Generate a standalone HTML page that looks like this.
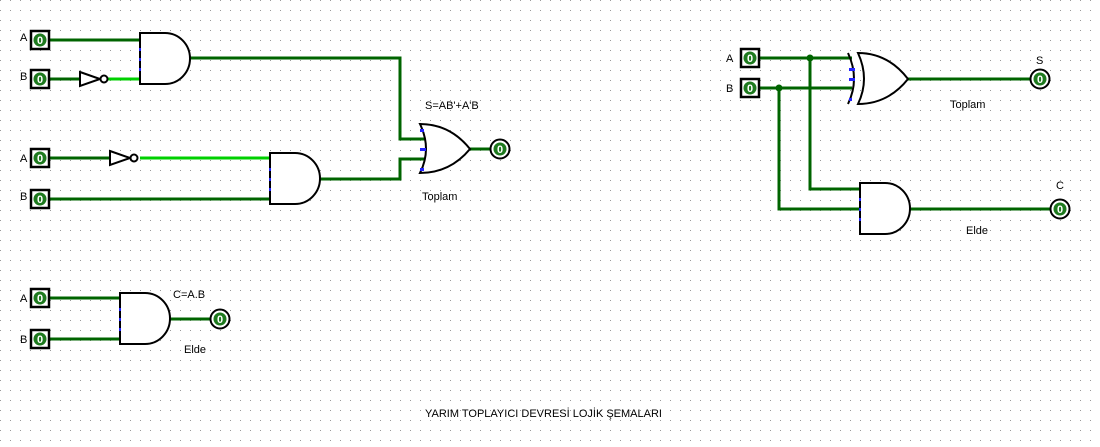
<!DOCTYPE html>
<html><head><meta charset="utf-8"><style>
body{margin:0;background:#fff;width:1100px;height:447px;overflow:hidden}
svg{display:block}
text{font-family:"Liberation Sans",sans-serif;font-size:11px;fill:#000}
</style></head><body>
<svg width="1100" height="447" xmlns="http://www.w3.org/2000/svg">
<defs>
<pattern id="g" width="10" height="10" patternUnits="userSpaceOnUse"><rect x="0" y="0" width="1" height="1" fill="#999"/></pattern>
<g id="in"><rect x="-9" y="-9" width="18" height="18" fill="#fff" stroke="#000" stroke-width="2.5"/><circle r="6.5" fill="#1e7a1e"/><text x="0" y="4" text-anchor="middle" style="font-size:11px;font-weight:bold;fill:#fff">0</text></g>
<g id="out"><circle r="9.5" fill="#fff" stroke="#000" stroke-width="2"/><circle r="6.5" fill="#1e7a1e"/><text x="0" y="4" text-anchor="middle" style="font-size:11px;font-weight:bold;fill:#fff">0</text></g>
</defs>
<rect width="1100" height="447" fill="url(#g)"/>
<g fill="none" stroke-width="3" stroke="#006400">
<!-- c1 -->
<path d="M50 40H140M50 79H80M190 58H400V139H425M425 159H400V179H320M470 149H490"/>
<path d="M108 79H140" stroke="#00d000"/>
<!-- c2 -->
<path d="M50 158H110M50 199H270"/>
<path d="M140 158H270" stroke="#00d000"/>
<!-- c3 -->
<path d="M50 298H120M50 339H120M170 319H210"/>
<!-- right -->
<path d="M760 58H852M760 88H852M810 58V189H860M779 88V209H860M908 79H1030M910 209H1050"/>
</g>
<g fill="#006400"><circle cx="810" cy="58" r="3.5"/><circle cx="779" cy="88" r="3.5"/></g>
<g fill="#fff" stroke="#000" stroke-width="2">
<!-- AND gates -->
<path d="M140 33H165A25 25.5 0 0 1 165 84H140Z"/>
<path d="M270 153H295A25 25.5 0 0 1 295 204H270Z"/>
<path d="M120 293H145A25 25.5 0 0 1 145 344H120Z"/>
<path d="M860 183H885A25 25.5 0 0 1 885 234H860Z"/>
<!-- NOTs -->
<path d="M80 72L100 79L80 86Z"/><circle cx="104" cy="79" r="3.5"/>
<path d="M110 151L130 158L110 165Z"/><circle cx="134" cy="158" r="3.5"/>
<!-- OR -->
<path d="M420 124Q450 124 470 149Q450 173 420 173Q432 149 420 124Z"/>
<!-- XOR -->
<path d="M858 53Q888 53 908 79Q888 104 858 104Q870 79 858 53Z"/>
<path d="M848 53Q860 79 848 104" fill="none"/>
</g>
<g fill="#2222ff">
<rect x="139" y="48" width="2" height="3"/><rect x="139" y="58" width="2" height="3"/><rect x="139" y="68" width="2" height="3"/>
<rect x="269" y="168" width="2" height="3"/><rect x="269" y="178" width="2" height="3"/><rect x="269" y="188" width="2" height="3"/>
<rect x="119" y="308" width="2" height="3"/><rect x="119" y="318" width="2" height="3"/><rect x="119" y="328" width="2" height="3"/>
<rect x="859" y="198" width="2" height="3"/><rect x="859" y="208" width="2" height="3"/><rect x="859" y="218" width="2" height="3"/>
<rect x="420" y="129" width="4" height="3"/><rect x="420" y="148" width="6" height="3"/><rect x="420" y="168" width="4" height="3"/>
<rect x="849" y="68" width="6" height="3"/><rect x="849" y="78" width="6" height="3"/><rect x="849" y="98" width="3" height="3"/>
</g>
<use href="#in" x="40" y="40"/><use href="#in" x="40" y="79"/>
<use href="#in" x="40" y="158"/><use href="#in" x="40" y="199"/>
<use href="#in" x="40" y="298"/><use href="#in" x="40" y="339"/>
<use href="#in" x="750" y="58"/><use href="#in" x="750" y="88"/>
<use href="#out" x="500" y="149"/><use href="#out" x="220" y="319"/>
<use href="#out" x="1040" y="79"/><use href="#out" x="1060" y="209"/>
<text x="20" y="41">A</text><text x="20" y="80">B</text>
<text x="20" y="162">A</text><text x="20" y="200">B</text>
<text x="20" y="302">A</text><text x="20" y="343">B</text>
<text x="726" y="62">A</text><text x="726" y="92">B</text>
<text x="425" y="109">S=AB'+A'B</text><text x="422" y="200">Toplam</text>
<text x="173" y="298">C=A.B</text><text x="184" y="353">Elde</text>
<text x="1036" y="64">S</text><text x="950" y="108">Toplam</text>
<text x="1056" y="189">C</text><text x="966" y="234">Elde</text>
<text x="425" y="417">YARIM TOPLAYICI DEVRESİ LOJİK ŞEMALARI</text>
</svg>
</body></html>
